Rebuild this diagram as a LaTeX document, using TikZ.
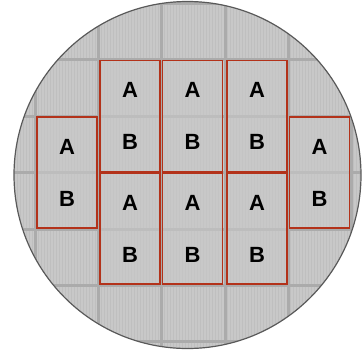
\documentclass[tikz,border=0pt]{standalone}
\usepackage{fontspec}
\setmainfont{Liberation Sans}
\usetikzlibrary{positioning}

\definecolor{waferfill}{HTML}{C8C8C8}
\definecolor{street}{HTML}{ABABAB}
\definecolor{stripe}{HTML}{BFBFBF}
\definecolor{chipred}{HTML}{B3321A}

\begin{document}
\begin{tikzpicture}[
    x=1pt, y=-1pt,
    chip/.style={draw=chipred, line width=1.5pt, fill=waferfill, fill opacity=0.65,
                 minimum width=60pt, minimum height=111pt, inner sep=0pt},
    lbl/.style={font=\fontsize{22}{22}\selectfont\bfseries, text=black},
]
    \useasboundingbox (0,0) rectangle (364,349);

    % ── Wafer ─────────────────────────────────────
    \fill[waferfill] (187.5,175) circle (173.5);
    \begin{scope}
        \clip (187.5,175) circle (173.5);
        \foreach \x in {14,17,...,362}
            \draw[stripe, line width=0.4pt] (\x,0) -- (\x,349);
        \foreach \x in {35,98,161,225,288,351}
            \draw[street, line width=3pt] (\x,0) -- (\x,349);
        \foreach \y in {3,59,116,172,229,285,341}
            \draw[street, line width=3pt] (0,\y) -- (364,\y);
    \end{scope}
    \draw[gray!70!black, line width=1.2pt] (187.5,175) circle (173.5);

    % ── Chips ─────────────────────────────────────
    \foreach \n/\x/\y in {left/67/172.5, top1/130/116, top2/192.5/116, top3/257/116,
                          bot1/130/228.5, bot2/192.5/228.5, bot3/257/228.5, right/319.5/172.5} {
        \node[chip] (\n) at (\x,\y) {};
        \node[lbl] (\n A) at (\x,\y-26) {A};
        \node[lbl] (\n B) at (\x,\y+26) {B};
    }
\end{tikzpicture}
\end{document}
